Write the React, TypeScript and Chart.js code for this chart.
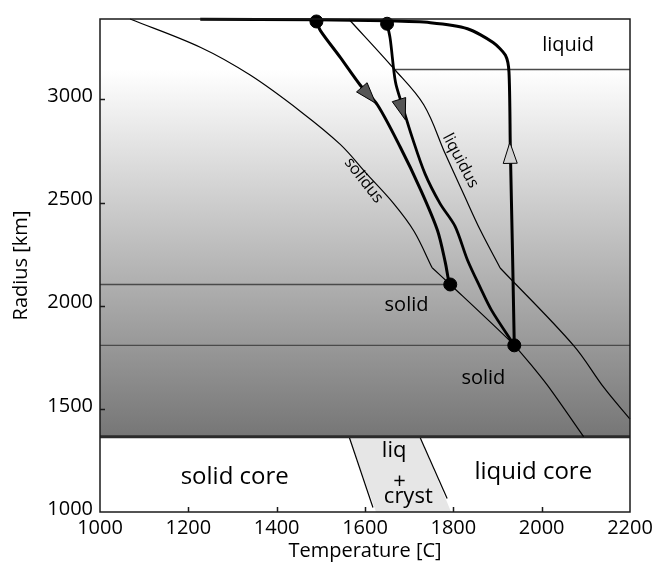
import { useEffect, useRef } from 'react';
import { Chart, registerables } from 'chart.js';

Chart.register(...registerables);

const FONT = "'Open Sans', sans-serif";
const INK = '#000000';

// Axis extents and tick labels
const T_RANGE = [1000, 2200];
const R_RANGE = [1000, 3390];
const T_TICKS = [1000, 1200, 1400, 1600, 1800, 2000, 2200];
const R_TICKS = [1000, 1500, 2000, 2500, 3000];

// Layer boundaries (radius, km)
const CORE_R = 1365;
const MELT_TOP_R = 3145;
const SHALLOW_LEVEL_R = 2103;
const DEEP_LEVEL_R = 1808;
const MELT_LINE_T = [1665, 2200];
const SHALLOW_LINE_T = [1000, 1793];
const DEEP_LINE_T = [1000, 2200];

// Solidus, split at its kink
const SOLIDUS_UP_T = [1068, 1227, 1340, 1454, 1544, 1604, 1665, 1711, 1752];
const SOLIDUS_UP_R = [3390, 3253, 3118, 2942, 2782, 2639, 2495, 2361, 2184];
const SOLIDUS_LOW_T = [1752, 1793, 1938, 2012, 2095];
const SOLIDUS_LOW_R = [2184, 2103, 1808, 1617, 1365];

// Liquidus, split at its kink
const LIQUIDUS_UP_T = [1563, 1665, 1733, 1782, 1823, 1861, 1906];
const LIQUIDUS_UP_R = [3390, 3150, 2974, 2735, 2543, 2367, 2183];
const LIQUIDUS_LOW_T = [1906, 2072, 2142, 2200];
const LIQUIDUS_LOW_R = [2183, 1808, 1600, 1450];

// Cooling path from the cooler surface start
const PATH_A_T = [1490, 1499, 1544, 1589, 1628, 1680, 1725, 1764, 1782, 1789, 1793];
const PATH_A_R = [3378, 3334, 3204, 3070, 2974, 2768, 2567, 2366, 2208, 2127, 2103];

// Cooling path from the hotter surface start
const PATH_B_T = [1650, 1657, 1669, 1684, 1707, 1736, 1770, 1804, 1832, 1861, 1886, 1938];
const PATH_B_R = [3367, 3295, 3084, 2974, 2815, 2639, 2495, 2385, 2222, 2088, 1980, 1808];

// Heating path rising from the deep point and running back along the surface
const PATH_C_T = [1938, 1934, 1929, 1926, 1918, 1890, 1832, 1748, 1650, 1490, 1227];
const PATH_C_R = [1808, 2255, 2768, 3132, 3214, 3276, 3343, 3372, 3381, 3386, 3389];

// Marked states
const DOT_T = [1490, 1650, 1793, 1938];
const DOT_R = [3378, 3367, 2103, 1808];

// Arrow tips along the paths
const ARROW_A = [1624, 2982];
const ARROW_B = [1691, 2902];
const ARROW_C = [1928, 2792];

// Core: two-phase zone between solid and liquid core
const MUSH_T = [1564, 1724, 1795, 1625];
const MUSH_R = [1365, 1365, 1000, 1000];
const MUSH_LEFT_T = [1564, 1618];
const MUSH_LEFT_R = [1365, 1022];
const MUSH_RIGHT_T = [1724, 1786];
const MUSH_RIGHT_R = [1365, 1066];

// Region names
const REGION_TEXT = ['liquid', 'solid', 'solid'];
const REGION_T = [2060, 1694, 1868];
const REGION_R = [3233, 1976, 1620];
const CORE_TEXT = ['solid core', 'liquid core'];
const CORE_T = [1305, 1981];
const CORE_TR = [1138, 1161];
const MUSH_TEXT = ['liq', '+', 'cryst'];
const MUSH_TT = [1666, 1678, 1698];
const MUSH_TR = [1265, 1115, 1042];
const CURVE_TEXT = ['solidus', 'liquidus'];
const CURVE_T = [1597, 1816];
const CURVE_R = [2607, 2703];
const CURVE_ANGLE = [52, 62];

const zip = (ts: number[], rs: number[]) => ts.map((t, i) => ({ x: t, y: rs[i] }));

function drawArrow(ctx: CanvasRenderingContext2D, chart: any, path: { x: number; y: number }[], tip: number[], fill: string) {
  const { x: sx, y: sy } = chart.scales;
  const px = path.map((p) => [sx.getPixelForValue(p.x), sy.getPixelForValue(p.y)]);
  const tx = sx.getPixelForValue(tip[0]);
  const ty = sy.getPixelForValue(tip[1]);
  let best = 0;
  let bestD = Infinity;
  for (let i = 0; i < px.length - 1; i++) {
    const [ax, ay] = px[i];
    const [bx, by] = px[i + 1];
    const vx = bx - ax, vy = by - ay;
    const l2 = vx * vx + vy * vy || 1;
    const t = Math.max(0, Math.min(1, ((tx - ax) * vx + (ty - ay) * vy) / l2));
    const d = Math.hypot(ax + t * vx - tx, ay + t * vy - ty);
    if (d < bestD) { bestD = d; best = i; }
  }
  let dx = px[best + 1][0] - px[best][0];
  let dy = px[best + 1][1] - px[best][1];
  const len = Math.hypot(dx, dy) || 1;
  dx /= len; dy /= len;
  const L = 21, W = 7;
  const cx = tx - dx * L, cy = ty - dy * L;
  ctx.beginPath();
  ctx.moveTo(tx, ty);
  ctx.lineTo(cx - dy * W, cy + dx * W);
  ctx.lineTo(cx + dy * W, cy - dx * W);
  ctx.closePath();
  ctx.fillStyle = fill;
  ctx.fill();
  ctx.lineWidth = 1;
  ctx.strokeStyle = '#000';
  ctx.stroke();
}

const overlay = {
  id: 'overlay',
  beforeDraw(chart: any) {
    const { ctx, chartArea: a, scales } = chart;
    const y = scales.y;
    ctx.save();
    ctx.fillStyle = '#ffffff';
    ctx.fillRect(a.left, a.top, a.right - a.left, a.bottom - a.top);
    const yTop = y.getPixelForValue(MELT_TOP_R);
    const yCore = y.getPixelForValue(CORE_R);
    const g = ctx.createLinearGradient(0, yTop, 0, yCore);
    g.addColorStop(0, '#ffffff');
    g.addColorStop(1, '#767676');
    ctx.fillStyle = g;
    ctx.fillRect(a.left, yTop, a.right - a.left, yCore - yTop);
    ctx.restore();
  },
  afterDatasetsDraw(chart: any) {
    const { ctx, scales } = chart;
    const { x, y } = scales;
    ctx.save();
    drawArrow(ctx, chart, zip(PATH_A_T, PATH_A_R), ARROW_A, '#555555');
    drawArrow(ctx, chart, zip(PATH_B_T, PATH_B_R), ARROW_B, '#555555');
    drawArrow(ctx, chart, zip(PATH_C_T, PATH_C_R), ARROW_C, '#d2d2d2');

    ctx.fillStyle = INK;
    ctx.textAlign = 'center';
    ctx.textBaseline = 'alphabetic';
    ctx.font = `20px ${FONT}`;
    REGION_TEXT.forEach((s, i) => ctx.fillText(s, x.getPixelForValue(REGION_T[i]), y.getPixelForValue(REGION_R[i])));
    ctx.font = `24px ${FONT}`;
    CORE_TEXT.forEach((s, i) => ctx.fillText(s, x.getPixelForValue(CORE_T[i]), y.getPixelForValue(CORE_TR[i])));
    ctx.font = `22px ${FONT}`;
    MUSH_TEXT.forEach((s, i) => ctx.fillText(s, x.getPixelForValue(MUSH_TT[i]), y.getPixelForValue(MUSH_TR[i])));

    ctx.font = `16px ${FONT}`;
    ctx.textBaseline = 'middle';
    CURVE_TEXT.forEach((s, i) => {
      ctx.save();
      ctx.translate(x.getPixelForValue(CURVE_T[i]), y.getPixelForValue(CURVE_R[i]));
      ctx.rotate((CURVE_ANGLE[i] * Math.PI) / 180);
      ctx.fillText(s, 0, 0);
      ctx.restore();
    });
    ctx.restore();
  },
  afterDraw(chart: any) {
    const { ctx, chartArea: a, scales } = chart;
    const { x, y } = scales;
    ctx.save();
    ctx.strokeStyle = '#1a1a1a';
    ctx.lineWidth = 1.5;
    ctx.beginPath();
    T_TICKS.slice(1, -1).forEach((t) => {
      const px = Math.round(x.getPixelForValue(t)) + 0.5;
      ctx.moveTo(px, a.bottom);
      ctx.lineTo(px, a.bottom - 5);
    });
    R_TICKS.slice(1).forEach((r) => {
      const py = Math.round(y.getPixelForValue(r)) + 0.5;
      ctx.moveTo(a.left, py);
      ctx.lineTo(a.left + 5, py);
    });
    ctx.stroke();
    ctx.strokeRect(a.left, a.top, a.right - a.left, a.bottom - a.top);
    ctx.restore();
  },
};

export default function App() {
  const ref = useRef<HTMLCanvasElement | null>(null);

  useEffect(() => {
    if (!ref.current) return;
    const thin = (data: any, extra: any = {}) => ({
      data, borderColor: '#000', borderWidth: 1.2, pointRadius: 0, tension: 0.35, clip: false, ...extra,
    });
    const thick = (data: any, extra: any = {}) => ({
      data, borderColor: '#000', borderWidth: 3, pointRadius: 0, tension: 0.3, clip: false, ...extra,
    });
    const level = (ts: number[], r: number) => ({
      data: ts.map((t) => ({ x: t, y: r })), borderColor: '#4a4a4a', borderWidth: 1.4, pointRadius: 0, clip: false,
    });

    const chart = new Chart(ref.current, {
      type: 'line',
      data: {
        datasets: [
          {
            type: 'scatter',
            data: zip(DOT_T, DOT_R),
            pointRadius: 6.5,
            pointBackgroundColor: '#000',
            pointBorderColor: '#000',
            showLine: false,
            clip: false,
          } as any,
          thick(zip(PATH_A_T, PATH_A_R)),
          thick(zip(PATH_B_T, PATH_B_R), { borderWidth: 2.8 }),
          thick(zip(PATH_C_T, PATH_C_R), { tension: 0.25 }),
          thin(zip(SOLIDUS_UP_T, SOLIDUS_UP_R)),
          thin(zip(SOLIDUS_LOW_T, SOLIDUS_LOW_R), { tension: 0.2 }),
          thin(zip(LIQUIDUS_UP_T, LIQUIDUS_UP_R)),
          thin(zip(LIQUIDUS_LOW_T, LIQUIDUS_LOW_R), { tension: 0.35 }),
          level(MELT_LINE_T, MELT_TOP_R),
          level(SHALLOW_LINE_T, SHALLOW_LEVEL_R),
          level(DEEP_LINE_T, DEEP_LEVEL_R),
          {
            data: zip(T_RANGE, [CORE_R, CORE_R]),
            borderColor: '#2b2b2b', borderWidth: 3, pointRadius: 0, clip: false,
          },
          thin(zip(MUSH_LEFT_T, MUSH_LEFT_R), { tension: 0 }),
          thin(zip(MUSH_RIGHT_T, MUSH_RIGHT_R), { tension: 0 }),
          {
            data: zip(MUSH_T, MUSH_R),
            borderWidth: 0,
            borderColor: 'rgba(0,0,0,0)',
            backgroundColor: '#e6e6e6',
            fill: 'shape',
            pointRadius: 0,
            tension: 0,
          },
        ] as any,
      },
      options: {
        animation: false,
        responsive: false,
        maintainAspectRatio: false,
        layout: { padding: { top: 13, right: 33, left: 0, bottom: 0 } },
        plugins: { legend: { display: false }, tooltip: { enabled: false } },
        scales: {
          x: {
            type: 'linear',
            min: T_RANGE[0],
            max: T_RANGE[1],
            afterBuildTicks: (s: any) => { s.ticks = T_TICKS.map((v) => ({ value: v })); },
            afterFit: (s: any) => { s.height = 60; },
            grid: { display: false, drawTicks: false },
            border: { display: false },
            ticks: {
              font: { family: FONT, size: 20 },
              color: INK,
              padding: 4,
              maxRotation: 0,
              autoSkip: false,
              callback: (v: any) => String(v),
            },
            title: {
              display: true,
              text: 'Temperature [C]',
              font: { family: FONT, size: 20 },
              color: INK,
              padding: { top: 0, bottom: 9 },
            },
          },
          y: {
            type: 'linear',
            min: R_RANGE[0],
            max: R_RANGE[1],
            afterBuildTicks: (s: any) => { s.ticks = R_TICKS.map((v) => ({ value: v })); },
            afterFit: (s: any) => { s.width = 100; },
            grid: { display: false, drawTicks: false },
            border: { display: false },
            ticks: {
              font: { family: FONT, size: 20 },
              color: INK,
              padding: 7,
              labelOffset: -3,
              autoSkip: false,
              callback: (v: any) => String(v),
            },
            title: {
              display: true,
              text: 'Radius [km]',
              font: { family: FONT, size: 20 },
              color: INK,
              padding: { top: 9, bottom: 0 },
            },
          },
        },
      } as any,
      plugins: [overlay],
    });
    return () => chart.destroy();
  }, []);

  return (
    <div style={{ position: 'absolute', left: 0, top: 0, width: 663, height: 572 }}>
      <canvas ref={ref} width={663} height={572} style={{ display: 'block' }} />
    </div>
  );
}
